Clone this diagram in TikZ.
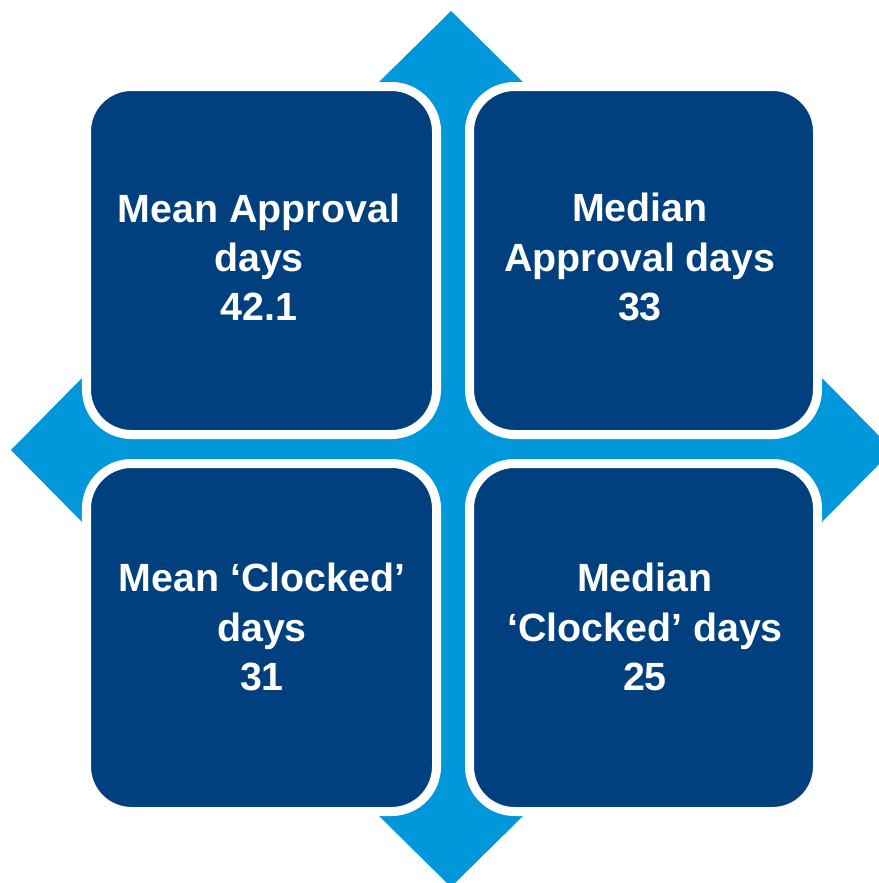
\documentclass[tikz,border=0pt]{standalone}
\usepackage{fontspec}
\setmainfont{Liberation Sans}
\usepackage{tikz}
\definecolor{navybox}{RGB}{0,64,126}
\definecolor{crossblue}{RGB}{0,152,218}
\tikzset{
	tile/.style={fill=navybox, draw=white, line width=0.225cm, rounded corners=1.125cm},
	tiletext/.style={text=white, align=center, inner sep=0pt, font=\fontsize{28}{35}\selectfont\bfseries}
}

\begin{document}
\begin{tikzpicture}[x=0.025cm, y=-0.025cm]
			%%%%% START %%%%%
			\useasboundingbox (0, 0) rectangle (879, 883);
			\clip (0, 0) rectangle (879, 883);
			
			% four-way arrow behind the tiles
			\draw[fill=crossblue, draw=none] (451, 11) -- (523, 82) -- (523, 378) -- (822, 378) -- (893, 450) -- (822, 522) -- (523, 522) -- (523, 816) -- (451, 887) -- (379, 816) -- (379, 522) -- (82, 522) -- (11, 450) -- (82, 378) -- (379, 378) -- (379, 82) -- cycle;
			
			% tiles
			\draw[tile] (86.5, 86.5) rectangle (436.5, 434.5);
			\draw[tile] (469.5, 86.5) rectangle (817.5, 434.5);
			\draw[tile] (86.5, 463.5) rectangle (436.5, 811.5);
			\draw[tile] (469.5, 463.5) rectangle (817.5, 811.5);
			
			\node[tiletext] (meanappr) at (259, 257) {Mean Approval\\days\\42.1};
			\node[tiletext] (medappr) at (640, 257) {Median\\Approval days\\33};
			\node[tiletext] (meanclock) at (262, 627) {Mean ‘Clocked’\\days\\31};
			\node[tiletext] (medclock) at (645, 627) {Median\\‘Clocked’ days\\25};
			%%%%% END %%%%%
\end{tikzpicture}
\end{document}
